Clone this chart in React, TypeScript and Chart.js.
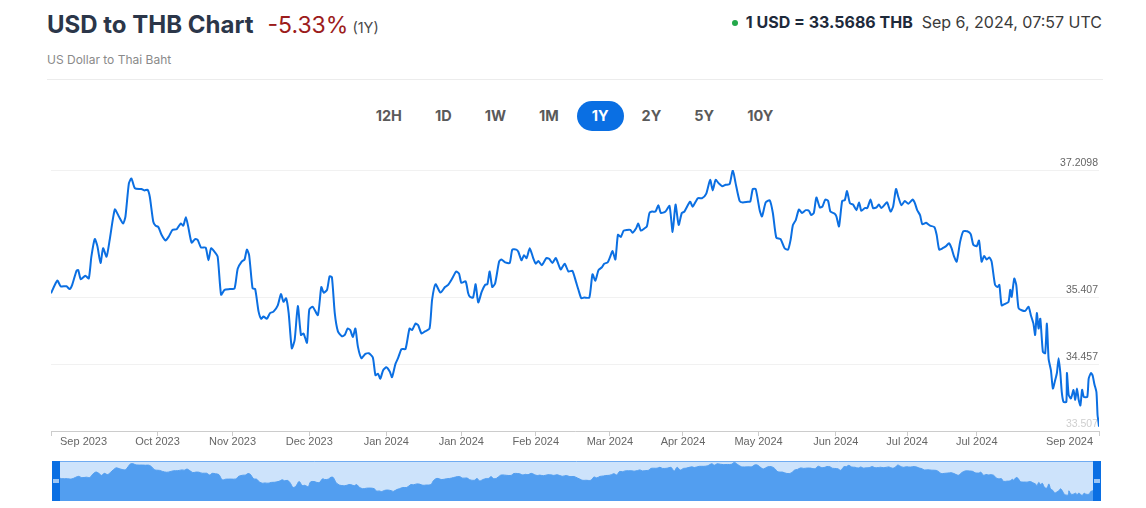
import React, { useEffect, useRef } from "react";
import { Chart, registerables } from "chart.js";

Chart.register(...registerables);

// ---- data (day offset from Sep 6, 2023, USD/THB rate) ----
const days = [
  0, 2.2, 3.4, 5.4, 6.5, 7.4, 8.9, 9.5, 10.4, 12.0, 13.2, 14.1, 15.3, 16.2, 17.3, 18.2, 19.4, 20.5, 22.3, 23.7,
  25.2, 26.0, 27.2, 28.1, 29.3, 31.6, 32.6, 33.7, 34.5, 35.7, 36.5, 37.5, 38.6, 40.0, 41.2, 42.4, 43.9, 45.3, 46.2, 47.1,
  47.9, 49.1, 50.3, 51.2, 52.4, 54.0, 55.0, 55.9, 57.1, 58.2, 59.4, 60.6, 62.5, 64.1, 65.2, 66.6, 67.6, 68.4, 69.2, 70.4,
  71.3, 72.5, 73.4,
  74.2, 75.4, 76.5, 77.7, 79.2, 80.3, 81.2, 82.1, 83.0, 84.1, 85.1, 86.2, 87.3, 88.2, 89.4, 90.2, 91.4, 93.2, 94.4, 95.2,
  96.4, 97.3, 98.1, 99.1, 100.2, 101.6, 102.6, 103.6, 104.5, 105.4, 106.3, 107.2, 108.4, 109.8, 111.0, 112.4, 113.3, 114.2, 115.0, 116.0,
  117.1, 118.3, 119.1, 120.3, 121.2, 122.4, 123.8, 125.2, 126.1, 127.3, 128.2, 129.4, 130.6, 132.2, 133.1, 134.3, 136.0, 137.6, 138.7, 140.1,
  141.5, 142.5, 143.3, 144.8, 145.7,
  146.3, 147.4, 148.3, 149.2, 150.4, 151.6, 152.4, 153.2, 154.1, 155.1, 156.5, 157.3, 158.6, 160.2, 161.1, 162.5, 163.2, 164.3, 165.2, 166.1,
  167.2, 168.4, 169.3, 170.2, 171.4, 173.0, 174.0, 175.1, 176.3, 178.0, 179.4, 180.7, 182.1, 183.3, 184.2, 185.2, 186.2, 188.0, 189.1, 190.1,
  191.2, 192.4, 193.2, 194.4, 195.2, 196.1, 197.1, 198.0, 199.0, 200.0, 201.1, 202.3, 203.1, 204.3, 205.1, 206.0, 207.2, 208.1, 209.0, 209.9,
  211.1, 212.1, 213.0, 214.6, 216.0, 217.1, 218.1, 219.2, 220.3, 221.2,
  223.2, 224.1, 225.9, 227.4, 228.8, 230.2, 231.1, 232.1, 233.2, 234.4, 235.6, 237.0, 238.1, 239.1, 240.5, 241.6, 243.4, 244.2, 245.1, 246.1,
  247.5, 248.3, 249.6, 251.0, 252.1, 253.3, 254.8, 256.2, 257.4, 258.3, 259.1, 260.1, 261.2, 262.3, 263.6, 264.7, 265.5, 266.4, 267.3, 268.5,
  269.4, 270.4, 271.4, 272.2, 273.7, 274.3, 275.2, 276.3, 277.2, 278.0, 279.0, 280.1, 281.3, 282.2, 283.0, 284.2, 285.1, 286.2, 287.1, 288.3,
  289.1, 290.0, 291.2, 292.0, 293.2, 294.1, 295.1,
  295.9, 297.0, 298.2, 299.4, 300.9, 301.7, 302.5, 303.5, 304.3, 305.6, 307.0, 308.5, 309.3, 310.2, 311.4, 312.6, 313.6, 314.5, 315.4, 316.3,
  317.5, 318.6, 320.0, 321.2, 322.1, 323.3, 324.1, 325.0, 325.9, 326.8, 327.7, 328.5, 329.7, 330.6, 331.2, 332.0, 333.2, 334.4, 335.0, 335.5,
  336.4, 337.1, 337.9, 339.0, 340.2, 341.4, 342.2, 343.1, 343.7, 344.3, 344.9, 345.5, 346.4, 347.2, 347.8, 348.4, 349.2, 349.9, 350.7, 351.3,
  351.9, 352.5, 353.0, 353.6, 354.6, 354.8, 355.4, 356.2, 357.1, 357.7, 358.3, 358.9, 359.5, 360.1, 360.7, 361.9, 362.4, 363.2, 363.8, 364.4,
  365.1, 365.5, 365.8, 366,
];

const rates = [
  35.46, 35.64, 35.56, 35.56, 35.52, 35.58, 35.78, 35.79, 35.66, 35.71, 35.67, 35.98, 36.23, 36.13, 35.89, 36.10, 35.98, 36.22, 36.65, 36.55,
  36.45, 36.55, 37.02, 37.09, 36.95, 36.94, 36.92, 36.93, 36.83, 36.48, 36.42, 36.40, 36.29, 36.21, 36.27, 36.36, 36.37, 36.45, 36.42, 36.54,
  36.41, 36.18, 36.23, 36.22, 36.11, 36.11, 35.93, 36.10, 36.05, 35.98, 35.44, 35.51, 35.52, 35.53, 35.81, 35.91, 35.94, 36.08, 36.00, 35.53,
  35.52, 35.20, 35.10,
  35.13, 35.10, 35.18, 35.20, 35.29, 35.45, 35.34, 35.39, 35.18, 34.68, 34.80, 35.28, 34.87, 34.89, 34.76, 35.23, 35.27, 35.15, 35.55, 35.47,
  35.51, 35.70, 35.69, 35.18, 34.92, 34.85, 34.87, 34.96, 34.94, 34.84, 34.96, 34.70, 34.54, 34.60, 34.61, 34.55, 34.30, 34.32, 34.25, 34.37,
  34.41, 34.35, 34.27, 34.46, 34.54, 34.67, 34.67, 34.96, 34.94, 35.03, 35.01, 34.89, 34.92, 34.96, 35.37, 35.59, 35.47, 35.55, 35.58, 35.67,
  35.77, 35.74, 35.61, 35.63, 35.46,
  35.41, 35.40, 35.59, 35.33, 35.48, 35.58, 35.59, 35.77, 35.55, 35.60, 35.91, 35.94, 35.90, 35.89, 36.08, 36.08, 36.05, 35.93, 36.00, 35.96,
  36.10, 35.96, 35.88, 35.92, 35.86, 35.96, 35.95, 35.89, 35.96, 35.80, 35.88, 35.77, 35.78, 35.63, 35.51, 35.39, 35.40, 35.40, 35.73, 35.64,
  35.79, 35.83, 35.88, 35.90, 35.97, 36.06, 35.94, 36.29, 36.26, 36.35, 36.36, 36.36, 36.32, 36.38, 36.45, 36.35, 36.38, 36.41, 36.60, 36.62,
  36.62, 36.71, 36.60, 36.62, 36.70, 36.33, 36.72, 36.43, 36.60, 36.62,
  36.76, 36.69, 36.81, 36.81, 36.87, 37.07, 36.92, 37.07, 37.02, 36.98, 37.00, 37.01, 37.21, 37.02, 36.77, 36.75, 36.76, 36.76, 36.94, 36.94,
  36.64, 36.55, 36.75, 36.78, 36.60, 36.25, 36.23, 36.10, 36.08, 36.22, 36.43, 36.50, 36.65, 36.60, 36.64, 36.63, 36.57, 36.60, 36.82, 36.68,
  36.69, 36.79, 36.77, 36.62, 36.59, 36.55, 36.41, 36.77, 36.78, 36.91, 36.74, 36.72, 36.64, 36.75, 36.63, 36.67, 36.67, 36.79, 36.67, 36.68,
  36.72, 36.67, 36.72, 36.75, 36.62, 36.69, 36.94,
  36.83, 36.71, 36.77, 36.73, 36.79, 36.74, 36.64, 36.57, 36.44, 36.46, 36.42, 36.40, 36.29, 36.08, 36.10, 36.13, 36.17, 36.10, 35.98, 35.91,
  36.19, 36.34, 36.34, 36.30, 36.15, 36.13, 36.21, 35.91, 35.99, 35.94, 35.97, 35.91, 35.58, 35.55, 35.58, 35.29, 35.31, 35.34, 35.51, 35.41,
  35.67, 35.58, 35.25, 35.22, 35.21, 35.27, 35.15, 35.03, 34.87, 35.18, 34.96, 35.10, 34.63, 34.61, 35.03, 34.53, 34.37, 34.11, 34.23, 34.33,
  34.54, 34.33, 34.06, 33.92, 33.92, 34.33, 34.02, 33.97, 34.09, 33.95, 34.11, 33.95, 33.87, 34.09, 33.99, 33.99, 34.25, 34.33, 34.29, 34.17,
  34.06, 33.73, 33.64, 33.5686,
];

const xTickDays = [0, 37.2, 63.4, 90.2, 117.1, 143.3, 169.3, 195.2, 220.7, 247.1, 274.1, 299.0, 323.3, 366];
const xTickLabels = [
  "Sep 2023", "Oct 2023", "Nov 2023", "Dec 2023", "Jan 2024", "Jan 2024", "Feb 2024",
  "Mar 2024", "Apr 2024", "May 2024", "Jun 2024", "Jul 2024", "Jul 2024", "Sep 2024",
];
const yTickValues = [33.507, 34.457, 35.407, 37.2098];
const yTickLabels = ["33.507", "34.457", "35.407", "37.2098"];
const rangeButtons = ["12H", "1D", "1W", "1M", "1Y", "2Y", "5Y", "10Y"];
const activeRange = "1Y";

const LINE_BLUE = "#0b6fe2";
const AXIS_FONT = '"Liberation Sans", Arial, sans-serif';

const xLabelPlugin = {
  id: "xLabels",
  afterDraw(chart: any) {
    const { ctx, chartArea, scales } = chart;
    const xs = scales.x;
    ctx.save();
    ctx.font = `11px ${AXIS_FONT}`;
    ctx.fillStyle = "#666666";
    ctx.textBaseline = "middle";
    xTickDays.forEach((d, i) => {
      let px = xs.getPixelForValue(d);
      if (i === 0) {
        ctx.textAlign = "left";
        px += 9;
      } else if (i === xTickDays.length - 1) {
        ctx.textAlign = "right";
        px -= 6;
      } else {
        ctx.textAlign = "center";
      }
      ctx.fillText(xTickLabels[i], px, chartArea.bottom + 11);
    });
    ctx.restore();
  },
};

const navBgPlugin = {
  id: "navBg",
  beforeDatasetsDraw(chart: any) {
    const { ctx, chartArea } = chart;
    ctx.save();
    ctx.fillStyle = "#cde3fb";
    ctx.fillRect(chartArea.left, chartArea.top, chartArea.right - chartArea.left, chartArea.bottom - chartArea.top);
    ctx.restore();
  },
  afterDraw(chart: any) {
    const { ctx, chartArea } = chart;
    const { left, right, top, bottom } = chartArea;
    ctx.save();
    ctx.strokeStyle = "#6fabf1";
    ctx.lineWidth = 1;
    ctx.beginPath();
    ctx.moveTo(left, top + 0.5);
    ctx.lineTo(right, top + 0.5);
    ctx.stroke();
    const hw = 8;
    const mid = (top + bottom) / 2;
    ctx.fillStyle = "#0a6fe3";
    ctx.fillRect(left, top, hw, bottom - top);
    ctx.fillRect(right - hw, top, hw, bottom - top);
    ctx.fillStyle = "#9cc6f5";
    ctx.fillRect(left + 1, mid - 2, 6, 4);
    ctx.fillRect(right - hw + 1, mid - 2, 6, 4);
    ctx.restore();
  },
};

export default function App() {
  const mainRef = useRef<HTMLCanvasElement>(null);
  const navRef = useRef<HTMLCanvasElement>(null);

  useEffect(() => {
    const mainPoints = days.map((d, i) => ({ x: d, y: rates[i] }));
    const navPoints = days.map((d, i) => ({ x: d, y: rates[i] }));

    const main = new Chart(mainRef.current as HTMLCanvasElement, {
      type: "line",
      data: {
        datasets: [
          {
            data: mainPoints,
            borderColor: LINE_BLUE,
            borderWidth: 2,
            pointRadius: 0,
            tension: 0.2,
            fill: false,
          },
        ],
      },
      options: {
        animation: false,
        responsive: false,
        maintainAspectRatio: false,
        layout: { padding: { left: 51, right: 47, top: 20, bottom: 14 } },
        plugins: { legend: { display: false }, tooltip: { enabled: false } },
        scales: {
          x: {
            type: "linear",
            min: 0,
            max: 366,
            afterBuildTicks: (s: any) => {
              s.ticks = xTickDays.map((v) => ({ value: v }));
            },
            grid: { drawOnChartArea: false, drawTicks: true, tickLength: 5, color: "#cccccc" },
            border: { display: true, color: "#cccccc" },
            ticks: { display: false },
          },
          y: {
            type: "linear",
            position: "right",
            min: 33.507,
            max: 37.2098,
            afterBuildTicks: (s: any) => {
              s.ticks = yTickValues.map((v) => ({ value: v }));
            },
            grid: { drawTicks: false, color: "#f1f1f1" },
            border: { display: false },
            ticks: {
              mirror: true,
              padding: -1,
              labelOffset: -7,
              font: { size: 10.5, family: AXIS_FONT },
              color: (c: any) => (c.index === 0 ? "#cfcfcf" : "#666666"),
              callback: (_v: any, i: number) => yTickLabels[i],
            },
          },
        },
      },
      plugins: [xLabelPlugin],
    } as any);

    const nav = new Chart(navRef.current as HTMLCanvasElement, {
      type: "line",
      data: {
        datasets: [
          {
            data: navPoints,
            borderColor: "#529ef0",
            borderWidth: 1,
            backgroundColor: "#529ef0",
            fill: "start",
            pointRadius: 0,
            tension: 0.3,
          },
        ],
      },
      options: {
        animation: false,
        responsive: false,
        maintainAspectRatio: false,
        layout: { padding: { left: 52, right: 45, top: 6, bottom: 4 } },
        plugins: { legend: { display: false }, tooltip: { enabled: false } },
        scales: {
          x: { type: "linear", display: false, min: 0, max: 366 },
          y: { type: "linear", display: false, min: 33.3, max: 37.35 },
        },
      },
      plugins: [navBgPlugin],
    } as any);

    return () => {
      main.destroy();
      nav.destroy();
    };
  }, []);

  return (
    <div
      style={{
        position: "absolute",
        left: 0,
        top: 0,
        width: 1146,
        height: 508,
        background: "#ffffff",
        fontFamily: "Inter, 'Noto Sans', sans-serif",
        overflow: "hidden",
      }}
    >
      <div
        style={{
          position: "absolute",
          left: 47,
          top: 10,
          display: "flex",
          alignItems: "baseline",
          lineHeight: "30px",
          whiteSpace: "nowrap",
        }}
      >
        <span style={{ fontSize: 24, fontWeight: 700, color: "#2b3649" }}>USD to THB Chart</span>
        <span style={{ fontSize: 23, fontWeight: 400, color: "#9c1c1c", marginLeft: 14 }}>-5.33%</span>
        <span style={{ fontSize: 14.5, fontWeight: 400, color: "#4a4a4a", marginLeft: 4 }}>(1Y)</span>
      </div>
      <div
        style={{
          position: "absolute",
          left: 47,
          top: 52,
          fontSize: 12,
          lineHeight: "16px",
          color: "#8a8a8a",
          whiteSpace: "nowrap",
        }}
      >
        US Dollar to Thai Baht
      </div>
      <div style={{ position: "absolute", left: 47, top: 79, width: 1056, height: 1, background: "#ececec" }} />

      <div
        style={{
          position: "absolute",
          left: 732,
          top: 20,
          width: 6,
          height: 6,
          borderRadius: 3,
          background: "#23a84a",
        }}
      />
      <div
        style={{
          position: "absolute",
          right: 44,
          top: 12,
          display: "flex",
          alignItems: "baseline",
          fontSize: 16,
          lineHeight: "20px",
          whiteSpace: "nowrap",
        }}
      >
        <span style={{ fontWeight: 700, color: "#1e2a3b" }}>1 USD = 33.5686 THB</span>
        <span style={{ fontWeight: 400, color: "#3a3a3a", marginLeft: 9 }}>Sep 6, 2024, 07:57 UTC</span>
      </div>

      <div
        style={{
          position: "absolute",
          left: 0,
          top: 101,
          width: 1149,
          display: "flex",
          justifyContent: "center",
          gap: 3,
        }}
      >
        {rangeButtons.map((r) => {
          const active = r === activeRange;
          return (
            <div
              key={r}
              style={{
                height: 30,
                lineHeight: "30px",
                padding: "0 15px",
                borderRadius: 15,
                fontSize: 14.5,
                fontWeight: 700,
                color: active ? "#ffffff" : "#5a5a5a",
                background: active ? "#0a6fe3" : "transparent",
              }}
            >
              {r}
            </div>
          );
        })}
      </div>

      <canvas
        ref={mainRef}
        width={1146}
        height={300}
        style={{ position: "absolute", left: 0, top: 150, width: 1146, height: 300 }}
      />
      <canvas
        ref={navRef}
        width={1146}
        height={50}
        style={{ position: "absolute", left: 0, top: 455, width: 1146, height: 50 }}
      />
    </div>
  );
}
